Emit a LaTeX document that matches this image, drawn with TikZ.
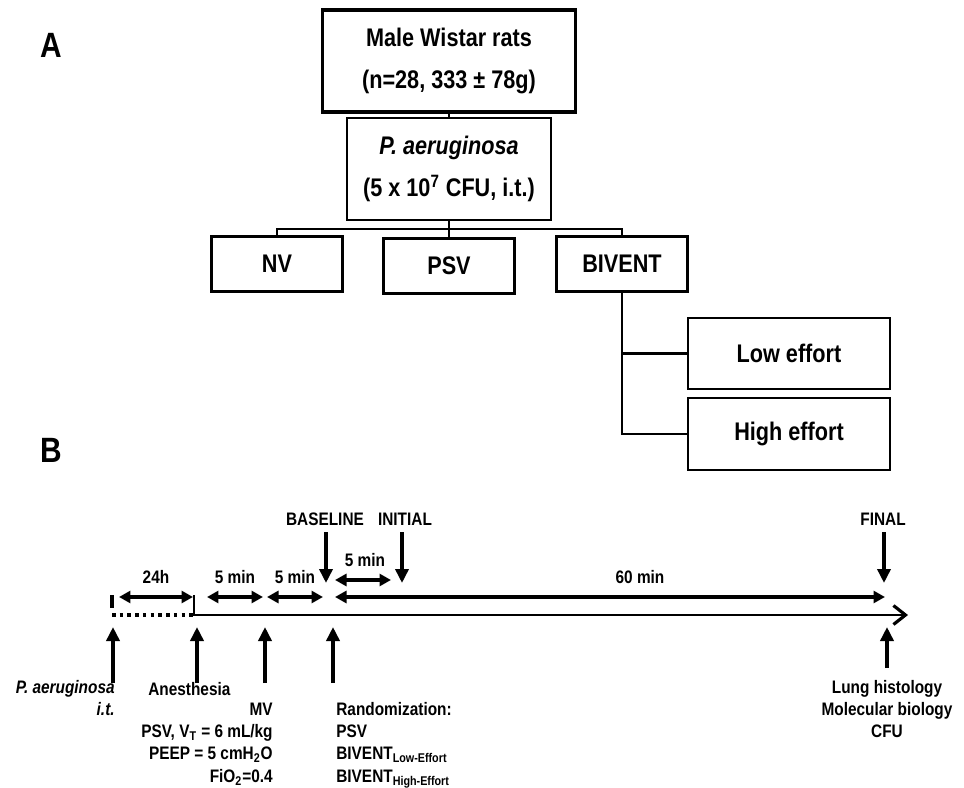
\documentclass[tikz,border=0pt]{standalone}
\usepackage{fontspec}
\setmainfont{Liberation Sans}[FakeStretch=0.85]
\usetikzlibrary{arrows.meta,positioning}

\begin{document}
\begin{tikzpicture}[x=0.02cm, y=-0.02cm,
    box/.style={draw, line width=1.3pt, inner sep=0pt, align=center,
        font=\fontsize{14.5}{24}\selectfont\bfseries},
    link/.style={line width=1.5pt},
    tl/.style={inner sep=0pt, font=\fontsize{10.3}{12}\selectfont\bfseries},
    letter/.style={inner sep=0pt, font=\fontsize{20}{24}\selectfont\bfseries},
    arr/.style={line width=2.2pt, -{Triangle[length=2.8mm,width=2.6mm]}},
    dbl/.style={line width=2pt, {Triangle[length=2.3mm,width=2.4mm]}-{Triangle[length=2.3mm,width=2.4mm]}},
    ]
    \useasboundingbox (0,0) rectangle (964,788);

    % Panel letters
    \node[letter, anchor=base] (lblA) at (51,57) {A};
    \node[letter, anchor=base] (lblB) at (51,462) {B};

    % Groups
    \node[box, line width=1.8pt, minimum width=5.06cm, minimum height=2.04cm] (rats) at (449,61)
        {Male Wistar rats\\(n=28, 333 ± 78g)};
    \node[box, minimum width=4.08cm, minimum height=2.04cm] (pa) at (449,169)
        {{\itshape P. aeruginosa}\\(5 x 10\textsuperscript{7} CFU, i.t.)};

    \foreach \n/\t/\x/\y in {
            nv/NV/277/264,
            psv/PSV/449/266,
            bivent/BIVENT/622/264
            } {
        \node[box, minimum width=2.62cm, minimum height=1.1cm] (\n) at (\x,\y) {\t};
    }

    \node[box, minimum width=4.04cm, minimum height=1.42cm] (low) at (789,353.5) {Low effort};
    \node[box, minimum width=4.04cm, minimum height=1.44cm] (high) at (789,434) {High effort};

    \coordinate (split) at (449,229);
    \draw[link] (rats) -- (pa);
    \draw[link] (pa) -- (psv);
    \draw[link] (nv.north) |- (split) -| (bivent.north);
    \draw[link] (bivent.south) |- (low.west);
    \draw[link] (bivent.south) |- (high.west);

    % Time axis
    \coordinate (t0top) at (112,595);
    \coordinate (t0bot) at (112,608);
    \coordinate (t0) at (112,615);
    \coordinate (t1top) at (194,595);
    \coordinate (t1) at (194,615);
    \coordinate (tend) at (908,615);
    \draw[line width=2.2pt] (t0top) -- (t0bot);
    \draw[line width=2.2pt, dash pattern=on 2pt off 2.4pt] (t0) -- (t1);
    \draw[line width=1.6pt, -{Straight Barb[length=2.4mm,width=3.8mm,line width=1.8pt]}]
        (t1top) -- (t1) -- (tend);

    % Intervals
    \foreach \i/\a/\b/\y/\lx/\t in {
            0/119/193/597/156/24h,
            1/207/263/597/235/5 min,
            2/267/323/597/295/5 min,
            3/335/391/580/365/5 min,
            4/335/885/597/640/60 min
            } {
        \coordinate (iv\i a) at (\a,\y);
        \coordinate (iv\i b) at (\b,\y);
        \draw[dbl] (iv\i a) -- (iv\i b);
        \node[tl, anchor=base] (ivlbl\i) at (\lx,\y-14) {\t};
    }

    % Time points (above)
    \foreach \n/\t/\lx/\x in {
            base/BASELINE/325/326,
            init/INITIAL/405/402,
            fin/FINAL/883/884
            } {
        \node[tl, anchor=base] (\n) at (\lx,525) {\t};
        \coordinate (\n top) at (\x,532);
        \coordinate (\n tip) at (\x,583);
        \draw[arr] (\n top) -- (\n tip);
    }

    % Time points (below)
    \foreach \n/\x/\y in {
            inf/113/683,
            anes/197/683,
            mv/265/683,
            rand/333/683,
            end/887/668
            } {
        \coordinate (\n foot) at (\x,\y);
        \coordinate (\n tip) at (\x,627);
        \draw[arr] (\n foot) -- (\n tip);
    }

    % Labels
    \node[tl, font=\fontsize{10.3}{12}\selectfont\bfseries\itshape, anchor=base east] (inf1) at (115,693) {P. aeruginosa};
    \node[tl, font=\fontsize{10.3}{12}\selectfont\bfseries\itshape, anchor=base east] (inf2) at (115,715) {i.t.};
    \node[tl, anchor=base west] (anes1) at (148,695) {Anesthesia};

    \node[tl, anchor=base east] (mv1) at (273,715) {MV};
    \node[tl, anchor=base east] (mv2) at (273,737.4) {PSV, V\textsubscript{T} = 6 mL/kg};
    \node[tl, anchor=base east] (mv3) at (273,759.8) {PEEP = 5 cmH\textsubscript{2}O};
    \node[tl, anchor=base east] (mv4) at (273,782.2) {FiO\textsubscript{2}=0.4};

    \foreach \i/\v in {
            1/Randomization:,
            2/PSV,
            3/BIVENT\textsubscript{Low-Effort},
            4/BIVENT\textsubscript{High-Effort}
            } {
        \node[tl, anchor=base west] (rand\i) at (336,{715+(\i-1)*22.4}) {\v};
    }

    \foreach \i/\v in {
            1/Lung histology,
            2/Molecular biology,
            3/CFU
            } {
        \node[tl, anchor=base] (out\i) at (887,{693+(\i-1)*22}) {\v};
    }
\end{tikzpicture}
\end{document}
